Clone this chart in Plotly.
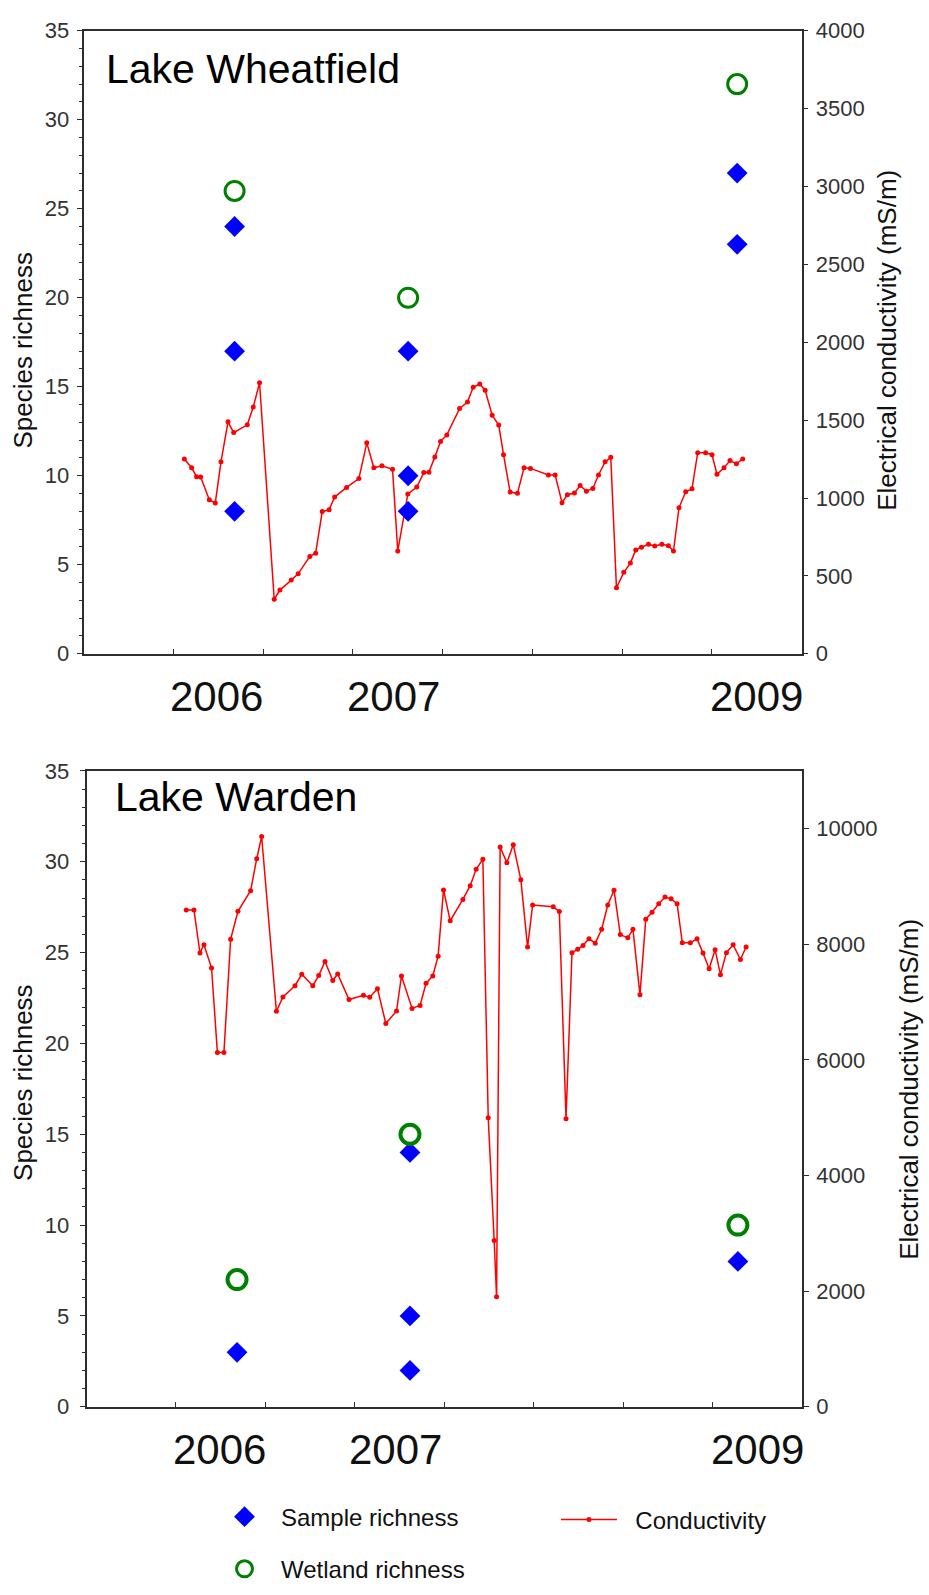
import plotly.graph_objects as go

# ---------------------------------------------------------------------------
# Data (time expressed in months from the start of the monitoring record;
# the axis spans four years with a tick every six months)
# ---------------------------------------------------------------------------
year_labels = ["2006", "2007", "2009"]
year_label_months = [8.9, 20.7, 45.0]

# Lake Wheatfield
wh_sample_month = [10.1, 10.1, 10.1, 21.7, 21.7, 21.7, 43.7, 43.7]
wh_sample = [24, 17, 8, 17, 10, 8, 27, 23]
wh_wetland_month = [10.1, 21.7, 43.7]
wh_wetland = [26, 20, 32]
wh_cond_month = [
    6.74, 7.23, 7.56, 7.83, 8.41, 8.81, 9.19, 9.66, 10.04, 10.95,
    11.35, 11.77, 12.75, 13.13, 13.89, 14.35, 15.13, 15.52, 15.96, 16.42,
    16.79, 17.59, 18.41, 18.94, 19.41, 19.95, 20.66, 21.01, 21.68, 22.28,
    22.75, 23.09, 23.49, 23.87, 24.29, 25.14, 25.67, 26.05, 26.49, 26.85,
    27.32, 27.76, 28.08, 28.52, 29.01, 29.45, 29.88, 31.08, 31.53, 31.99,
    32.35, 32.82, 33.20, 33.62, 34.05, 34.43, 34.87, 35.25, 35.63, 36.12,
    36.56, 36.92, 37.30, 37.77, 38.19, 38.66, 39.10, 39.44, 39.81, 40.26,
    40.68, 41.06, 41.59, 42.02, 42.35, 42.82, 43.22, 43.65, 44.07,
]
wh_cond = [
    1251, 1194, 1137, 1135, 989, 968, 1232, 1489, 1420, 1470,
    1584, 1740, 350, 409, 473, 513, 625, 646, 913, 924,
    1006, 1068, 1125, 1354, 1194, 1207, 1184, 660, 1025, 1070,
    1163, 1165, 1264, 1363, 1405, 1574, 1616, 1711, 1732, 1692,
    1532, 1468, 1278, 1038, 1030, 1194, 1190, 1148, 1148, 970,
    1021, 1032, 1080, 1044, 1061, 1148, 1232, 1261, 424, 523,
    582, 667, 684, 703, 692, 703, 694, 660, 937, 1040,
    1059, 1291, 1291, 1278, 1152, 1194, 1240, 1220, 1251,
]

# Lake Warden
wa_sample_month = [10.1, 21.7, 21.7, 21.7, 43.7]
wa_sample = [3, 14, 5, 2, 8]
wa_wetland_month = [10.1, 21.7, 43.7]
wa_wetland = [7, 15, 10]
wa_cond_month = [
    6.69, 7.21, 7.61, 7.88, 8.39, 8.78, 9.22, 9.67, 10.16, 11.01,
    11.42, 11.75, 12.74, 13.18, 13.99, 14.44, 15.18, 15.58, 16.00, 16.52,
    16.85, 17.61, 18.58, 19.00, 19.52, 20.08, 20.80, 21.13, 21.84, 22.38,
    22.78, 23.23, 23.59, 23.95, 24.40, 25.25, 25.74, 26.14, 26.59, 26.95,
    27.35, 27.51, 27.75, 28.20, 28.63, 29.14, 29.59, 29.93, 31.31, 31.72,
    32.17, 32.57, 32.95, 33.31, 33.71, 34.13, 34.56, 34.97, 35.39, 35.81,
    36.31, 36.66, 37.13, 37.52, 37.94, 38.39, 38.81, 39.22, 39.62, 39.97,
    40.51, 40.96, 41.36, 41.77, 42.17, 42.53, 42.93, 43.38, 43.87, 44.25,
]
wa_cond = [
    8595, 8595, 7851, 7993, 7590, 6131, 6131, 8089, 8571, 8929,
    9481, 9866, 6841, 7090, 7284, 7481, 7284, 7459, 7703, 7374,
    7488, 7045, 7119, 7085, 7233, 6630, 6846, 7454, 6892, 6943,
    7328, 7454, 7795, 8941, 8408, 8776, 9014, 9298, 9474, 5000,
    2878, 1904, 9685, 9413, 9724, 9116, 7953, 8680, 8651, 8566,
    4985, 7856, 7914, 7982, 8095, 8021, 8260, 8680, 8936, 8169,
    8112, 8260, 7130, 8435, 8554, 8702, 8817, 8787, 8702, 8026,
    8026, 8095, 7851, 7578, 7907, 7476, 7856, 7993, 7737, 7953,
]

# ---------------------------------------------------------------------------
# Styling
# ---------------------------------------------------------------------------
W, H = 929, 1595
RED, BLUE, GREEN = "#ff0000", "#0000ff", "#008000"
AXIS = "#2e2e2e"
SANS = "Liberation Sans, Arial, sans-serif"
NARROW = "Liberation Sans Narrow, Arial Narrow, Liberation Sans, Arial, sans-serif"
TICK_FONT = dict(family=SANS, size=22, color="#333333")
TITLE_FONT = dict(family=SANS, size=26, color="#111111")
LAKE_FONT = dict(family=SANS, size=41, color="#000000")
YEAR_FONT = dict(family=NARROW, size=42, color="#111111")
LEGEND_FONT = dict(family=NARROW, size=24, color="#111111")
GAP = "\u00a0\u00a0"  # extra room between the line sample and its label


def px(xp):
    return xp / W


def py(yp):
    return 1 - yp / H


fig = go.Figure()


def add_lake(xa, ya_cond, ya_rich, s_month, s_vals, w_month, w_vals, c_month, c_vals, show, ring):
    fig.add_trace(go.Scatter(
        x=c_month, y=c_vals, mode="lines+markers", name=GAP + "Conductivity",
        line=dict(color=RED, width=1.5), marker=dict(color=RED, size=5),
        xaxis=xa, yaxis=ya_cond, showlegend=show, legend="legend2",
    ))
    fig.add_trace(go.Scatter(
        x=s_month, y=s_vals, mode="markers", name="Sample richness",
        marker=dict(symbol="diamond", size=16, color=BLUE),
        xaxis=xa, yaxis=ya_rich, showlegend=show, legend="legend",
    ))
    fig.add_trace(go.Scatter(
        x=w_month, y=w_vals, mode="markers", name="Wetland richness",
        marker=dict(symbol="circle-open", size=19, color=GREEN, line=dict(width=ring, color=GREEN)),
        xaxis=xa, yaxis=ya_rich, showlegend=show, legend="legend3",
    ))


add_lake("x", "y", "y2", wh_sample_month, wh_sample, wh_wetland_month, wh_wetland,
         wh_cond_month, wh_cond, True, 3)
add_lake("x2", "y3", "y4", wa_sample_month, wa_sample, wa_wetland_month, wa_wetland,
         wa_cond_month, wa_cond, False, 4)

common_x = dict(
    range=[0, 48], tick0=0, dtick=6, ticks="inside", ticklen=5, tickwidth=1.2,
    tickcolor=AXIS, showticklabels=False, showline=True, mirror=True,
    linecolor=AXIS, linewidth=1.6, showgrid=False, zeroline=False,
)
rich_axis = dict(
    range=[0, 35], dtick=5, ticks="outside", ticklen=5, tickwidth=1.2, tickcolor=AXIS,
    minor=dict(dtick=1, ticks="outside", ticklen=3, tickcolor=AXIS, tickwidth=1),
    side="left", showline=True, linecolor=AXIS, linewidth=1.6,
    showgrid=False, zeroline=False, tickfont=TICK_FONT,
)
cond_axis = dict(
    side="right", ticks="outside", ticklen=5, tickwidth=1.2, tickcolor=AXIS,
    showline=True, linecolor=AXIS, linewidth=1.6, showgrid=False,
    zeroline=False, tickfont=TICK_FONT, tickformat="d", ticklabelstandoff=3,
)

top_dom_y = [py(652), py(19)]
bot_dom_y = [py(1417), py(771)]

fig.update_layout(
    width=W, height=H, margin=dict(l=0, r=0, t=0, b=0),
    paper_bgcolor="white", plot_bgcolor="white",
    xaxis=dict(domain=[px(83.5), px(801.5)], anchor="y", **common_x),
    yaxis=dict(domain=top_dom_y, anchor="x", range=[0, 4000], dtick=500, **cond_axis),
    yaxis2=dict(anchor="x", overlaying="y", ticklabelstandoff=3, **rich_axis),
    xaxis2=dict(domain=[px(86.5), px(802)], anchor="y3", **common_x),
    yaxis3=dict(domain=bot_dom_y, anchor="x2", range=[0, 11000],
                tickvals=[0, 2000, 4000, 6000, 8000, 10000], **cond_axis),
    yaxis4=dict(anchor="x2", overlaying="y3", ticklabelstandoff=6, **rich_axis),
    legend=dict(x=px(208), y=py(1529), xanchor="left", yanchor="middle",
                font=LEGEND_FONT, itemwidth=63, bgcolor="rgba(0,0,0,0)"),
    legend2=dict(x=px(556), y=py(1532), xanchor="left", yanchor="middle",
                 font=LEGEND_FONT, itemwidth=56, bgcolor="rgba(0,0,0,0)"),
    legend3=dict(x=px(208), y=py(1582), xanchor="left", yanchor="middle",
                 font=LEGEND_FONT, itemwidth=63, bgcolor="rgba(0,0,0,0)"),
    showlegend=True,
)


def label(text, x, y, font, angle=0, xanchor="center"):
    return dict(text=text, x=px(x), y=py(y), xref="paper", yref="paper",
                xanchor=xanchor, yanchor="middle", textangle=angle,
                showarrow=False, font=font)


annotations = [
    label("Lake Wheatfield", 104, 58, LAKE_FONT, xanchor="left"),
    label("Lake Warden", 113, 798, LAKE_FONT, xanchor="left"),
    label("Species richness", 23, 344, TITLE_FONT, angle=-90),
    label("Species richness", 23, 1088, TITLE_FONT, angle=-90),
    label("Electrical conductivity (mS/m)", 887, 334, TITLE_FONT, angle=-90),
    label("Electrical conductivity (mS/m)", 909, 1095, TITLE_FONT, angle=-90),
]
for xa, ypos in (("x", 695), ("x2", 1460)):
    for text, m in zip(year_labels, year_label_months):
        annotations.append(dict(text=text, x=m, xref=xa, y=py(ypos), yref="paper",
                                xanchor="center", yanchor="middle", showarrow=False,
                                font=YEAR_FONT))
fig.update_layout(annotations=annotations)

fig.write_html("out.html")
